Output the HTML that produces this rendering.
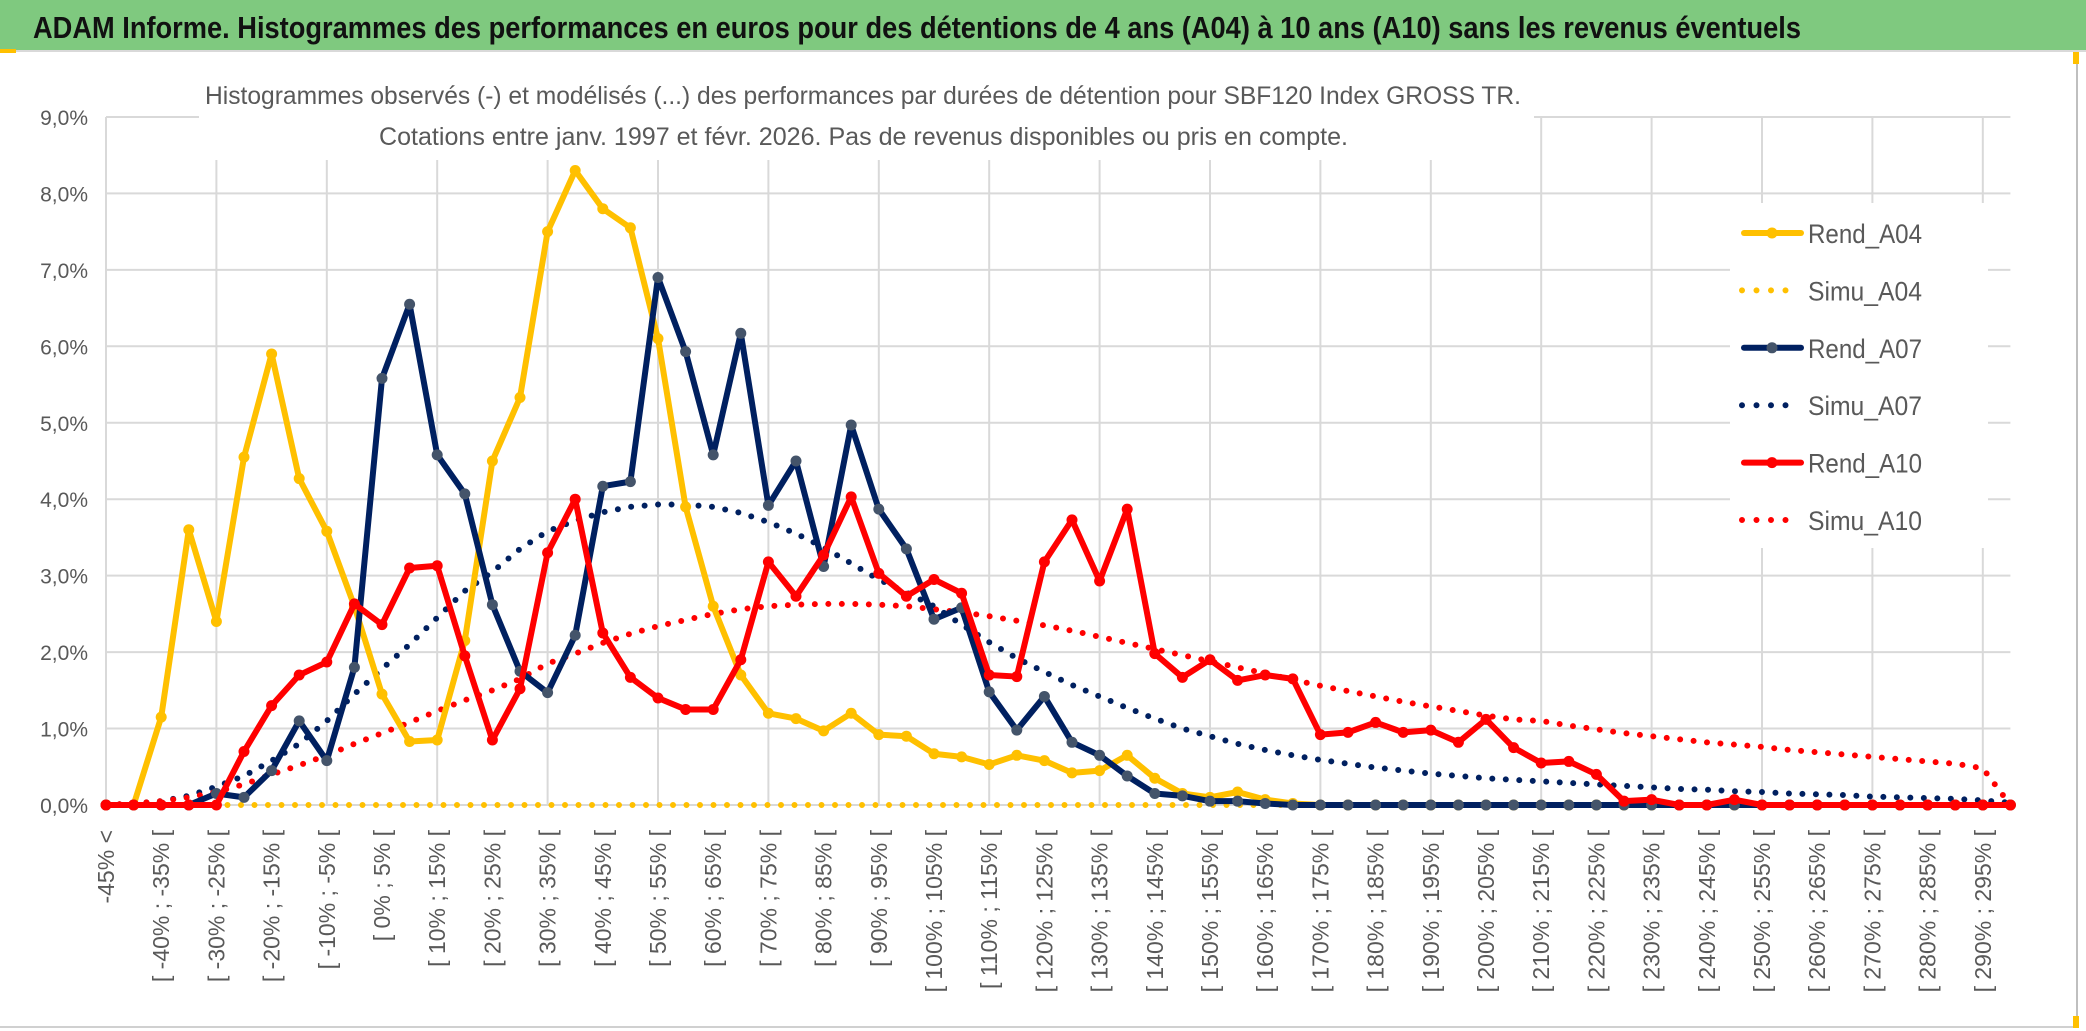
<!DOCTYPE html>
<html><head><meta charset="utf-8"><style>
html,body{margin:0;padding:0;background:#fff;}
svg{display:block;font-family:"Liberation Sans",sans-serif;}
</style></head><body>
<svg id="chart" width="2086" height="1031" viewBox="0 0 2086 1031" xmlns="http://www.w3.org/2000/svg">
<rect x="0" y="0" width="2086" height="1031" fill="#fff"/>
<rect x="0" y="0" width="2086" height="50" fill="#7fc97f"/>
<line x1="0" y1="51" x2="2086" y2="51" stroke="#d9d9d9" stroke-width="2"/>
<text x="33" y="38" font-size="31" font-weight="bold" fill="#111" textLength="1768" lengthAdjust="spacingAndGlyphs">ADAM Informe. Histogrammes des performances en euros pour des détentions de 4 ans (A04) à 10 ans (A10) sans les revenus éventuels</text>
<rect x="2076" y="52" width="2" height="975" fill="#bfbfbf"/>
<rect x="0" y="1026" width="2078" height="2" fill="#d0d0d0"/>
<rect x="2073" y="52" width="6" height="12" fill="#ffc000"/>
<rect x="2073" y="1016" width="6" height="12" fill="#ffc000"/>
<rect x="0" y="49" width="16" height="4" fill="#ffc000"/>
<g id="grid"></g>
<rect x="199" y="70" width="1335" height="90" fill="#fff"/>
<text x="205" y="104" font-size="25" fill="#595959" textLength="1316" lengthAdjust="spacingAndGlyphs">Histogrammes observés (-) et modélisés (...) des performances par durées de détention pour SBF120 Index GROSS TR.</text>
<text x="379" y="145" font-size="25" fill="#595959" textLength="969" lengthAdjust="spacingAndGlyphs">Cotations entre janv. 1997 et févr. 2026. Pas de revenus disponibles ou pris en compte.</text>
<g id="axes"></g>
<g id="series"></g>
<g id="legend"></g>
</svg>
<script>
const categories = Array.from({length:70},(_,i)=> i===0 ? "-45% <" : "[ "+(-45+5*(i-1))+"% ; "+(-40+5*(i-1))+"% [");
const yTicks = [0,1,2,3,4,5,6,7,8,9];
const yTickLabels = ["0,0%","1,0%","2,0%","3,0%","4,0%","5,0%","6,0%","7,0%","8,0%","9,0%"];
const rendA04 = [0,0,1.15,3.6,2.4,4.55,5.9,4.27,3.58,2.6,1.45,0.83,0.85,2.15,4.5,5.33,7.5,8.3,7.8,7.55,6.1,3.9,2.6,1.7,1.2,1.13,0.97,1.2,0.92,0.9,0.67,0.63,0.53,0.65,0.58,0.42,0.45,0.65,0.35,0.15,0.1,0.17,0.07,0.02,0,0,0,0,0,0,0,0,0,0,0,0,0,0,0,0,0,0,0,0,0,0,0,0,0,0];
const simuA04 = new Array(70).fill(0);
const rendA07 = [0,0,0,0,0.15,0.1,0.45,1.1,0.58,1.8,5.58,6.55,4.58,4.07,2.62,1.75,1.47,2.22,4.17,4.23,6.9,5.93,4.58,6.17,3.92,4.5,3.12,4.97,3.87,3.35,2.43,2.58,1.48,0.98,1.42,0.82,0.65,0.38,0.15,0.12,0.05,0.05,0.02,0,0,0,0,0,0,0,0,0,0,0,0,0,0,0,0,0,0,0,0,0,0,0,0,0,0,0];
const simuA07 = [0,0.02,0.05,0.12,0.24,0.38,0.58,0.8,1.1,1.45,1.78,2.1,2.45,2.8,3.05,3.35,3.58,3.72,3.83,3.9,3.93,3.93,3.9,3.82,3.7,3.55,3.37,3.16,2.95,2.78,2.6,2.36,2.13,1.92,1.74,1.57,1.42,1.27,1.13,1.0,0.9,0.8,0.72,0.65,0.59,0.54,0.49,0.45,0.41,0.38,0.35,0.33,0.31,0.29,0.27,0.25,0.23,0.21,0.2,0.18,0.17,0.15,0.14,0.13,0.11,0.1,0.09,0.08,0.06,0.03];
const rendA10 = [0,0,0,0,0,0.7,1.3,1.7,1.87,2.63,2.36,3.1,3.13,1.95,0.85,1.52,3.3,4.0,2.25,1.67,1.4,1.25,1.25,1.9,3.18,2.73,3.27,4.03,3.03,2.73,2.95,2.77,1.7,1.68,3.18,3.73,2.93,3.87,1.98,1.67,1.9,1.63,1.7,1.65,0.92,0.95,1.08,0.95,0.98,0.82,1.12,0.75,0.55,0.57,0.4,0.05,0.07,0,0,0.07,0,0,0,0,0,0,0,0,0,0];
const simuA10 = [0,0.02,0.05,0.1,0.17,0.27,0.4,0.52,0.65,0.8,0.94,1.08,1.23,1.37,1.5,1.65,1.85,1.98,2.12,2.24,2.34,2.42,2.5,2.56,2.6,2.62,2.63,2.63,2.62,2.6,2.56,2.52,2.47,2.41,2.35,2.28,2.2,2.12,2.04,1.96,1.88,1.8,1.72,1.64,1.56,1.49,1.42,1.35,1.29,1.23,1.17,1.12,1.1,1.04,0.99,0.94,0.9,0.86,0.82,0.79,0.76,0.72,0.69,0.66,0.63,0.6,0.57,0.54,0.48,0];

const NS="http://www.w3.org/2000/svg";
const X0=106, DX=27.6, Y0=805, DY=76.45;
function xPos(i){return X0+DX*i;}
function yPos(v){return Y0-v*DY;}
function mk(tag,attrs,parent){const e=document.createElementNS(NS,tag);for(const k in attrs)e.setAttribute(k,attrs[k]);parent.appendChild(e);return e;}
const grid=document.getElementById('grid'), axes=document.getElementById('axes'), series=document.getElementById('series'), legend=document.getElementById('legend');
const xRight=xPos(categories.length-1);
yTicks.forEach((t,k)=>{
  const l=mk('line',{x1:X0,x2:xRight,y1:yPos(t),y2:yPos(t),stroke:'#d9d9d9','stroke-width':2},grid);
  
  
  const tx=mk('text',{x:88,y:yPos(t)+8,'text-anchor':'end','font-size':21,fill:'#595959'},axes);
  tx.textContent=yTickLabels[k];
  
  
});
for(let i=4;i<categories.length;i+=4){
  const l=mk('line',{x1:xPos(i),x2:xPos(i),y1:yPos(9),y2:Y0,stroke:'#d9d9d9','stroke-width':2},grid);
  
  
}
mk('line',{x1:X0,x2:X0,y1:yPos(9),y2:Y0,stroke:'#d9d9d9','stroke-width':2},grid);
categories.forEach((c,i)=>{
  if(i%2) return;
  const tx=mk('text',{x:0,y:0,'text-anchor':'end','font-size':23,fill:'#595959',transform:`translate(${xPos(i)+8},830) rotate(-90)`},axes);
  tx.textContent=c;
  
  
});
function pts(arr){return arr.map((v,i)=>xPos(i)+','+yPos(v)).join(' ');}
function dotted(arr,color,name,w){
  const p=mk('polyline',{points:pts(arr),fill:'none',stroke:color,'stroke-width':w,'stroke-linecap':'round','stroke-dasharray':'0 13.5'},series);
  
  
}
function solid(arr,color,mcolor,name){
  const p=mk('polyline',{points:pts(arr),fill:'none',stroke:color,'stroke-width':6,'stroke-linejoin':'round'},series);
  
  
  arr.forEach((v,i)=>{
    const c=mk('circle',{cx:xPos(i),cy:yPos(v),r:5.5,fill:mcolor},series);
    
    
  });
}
dotted(simuA04,'#ffc000','simu-a04-line',6);
dotted(simuA07,'#002060','simu-a07-line',6);
dotted(simuA10,'#ff0000','simu-a10-line',6);
solid(rendA04,'#ffc000','#ffc000','rend-a04-line');
solid(rendA07,'#002060','#44546a','rend-a07-line');
solid(rendA10,'#ff0000','#ff0000','rend-a10-line');

mk('rect',{x:1730,y:203,width:258,height:345,fill:'#fff'},legend);
const legItems=[["Rend_A04",'#ffc000','#ffc000',false],["Simu_A04",'#ffc000','#ffc000',true],["Rend_A07",'#002060','#44546a',false],["Simu_A07",'#002060','#002060',true],["Rend_A10",'#ff0000','#ff0000',false],["Simu_A10",'#ff0000','#ff0000',true]];
legItems.forEach((it,k)=>{
  const y=233+k*57.4;
  const g=mk('g',{},legend);
  
  
  if(it[3]){
    mk('line',{x1:1742,x2:it[0]==="Simu_A10"?1800:1789,y1:y,y2:y,stroke:it[1],'stroke-width':6,'stroke-linecap':'round','stroke-dasharray':'0 14.5'},g);
  } else {
    mk('line',{x1:1744,x2:1801,y1:y,y2:y,stroke:it[1],'stroke-width':6,'stroke-linecap':'round'},g);
    mk('circle',{cx:1772,cy:y,r:5.5,fill:it[2]},g);
  }
  const t=mk('text',{x:1808,y:y+10,'font-size':27,fill:'#595959',textLength:114,lengthAdjust:'spacingAndGlyphs'},g);
  t.textContent=it[0];
});
</script>
</body></html>
